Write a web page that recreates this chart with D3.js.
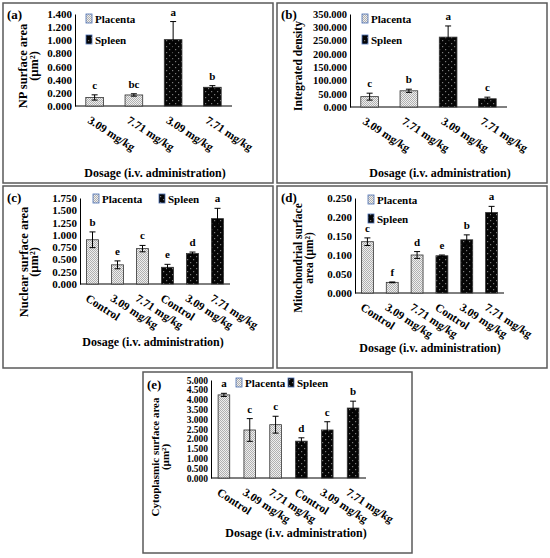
<!DOCTYPE html>
<html>
<head>
<meta charset="utf-8">
<script src="https://cdn.jsdelivr.net/npm/d3@7"></script>
<style>
  body { margin: 0; background: #fff; }
  text { font-family: "Liberation Serif", "Times New Roman", serif; font-weight: bold; fill: #000; }
</style>
</head>
<body>
<svg id="fig" width="550" height="558"></svg>
<script>
// ---- categories ----
var tissues = ["Placenta", "Spleen"];
var dosesTreated = ["3.09 mg/kg", "7.71 mg/kg", "3.09 mg/kg", "7.71 mg/kg"];
var tissueTreated = ["Placenta", "Placenta", "Spleen", "Spleen"];
var dosesAll = ["Control", "3.09 mg/kg", "7.71 mg/kg", "Control", "3.09 mg/kg", "7.71 mg/kg"];
var tissueAll = ["Placenta", "Placenta", "Placenta", "Spleen", "Spleen", "Spleen"];

// ---- (a) NP surface area ----
var npArea = [0.130, 0.168, 1.010, 0.285];
var npAreaSd = [0.040, 0.018, 0.275, 0.025];
var npAreaSig = ["c", "bc", "a", "b"];
var npAreaTicks = [0, 0.2, 0.4, 0.6, 0.8, 1.0, 1.2, 1.4];

// ---- (b) integrated density ----
var intDensity = [39, 61, 263, 31];
var intDensitySd = [13, 6, 42, 6];
var intDensitySig = ["c", "b", "a", "c"];
var intDensityTicks = [0, 50, 100, 150, 200, 250, 300, 350];

// ---- (c) nuclear surface area ----
var nucArea = [0.900, 0.390, 0.720, 0.340, 0.620, 1.330];
var nucAreaSd = [0.160, 0.080, 0.065, 0.060, 0.030, 0.210];
var nucAreaSig = ["b", "e", "c", "e", "d", "a"];
var nucAreaTicks = [0, 0.25, 0.5, 0.75, 1.0, 1.25, 1.5, 1.75];

// ---- (d) mitochondrial surface area ----
var mitoArea = [0.135, 0.028, 0.100, 0.098, 0.140, 0.212];
var mitoAreaSd = [0.010, 0.001, 0.009, 0.002, 0.013, 0.016];
var mitoAreaSig = ["c", "f", "d", "e", "b", "a"];
var mitoAreaTicks = [0, 0.05, 0.1, 0.15, 0.2, 0.25];

// ---- (e) cytoplasmic surface area ----
var cytoArea = [4.240, 2.450, 2.720, 1.880, 2.450, 3.570];
var cytoAreaSd = [0.080, 0.580, 0.430, 0.170, 0.420, 0.350];
var cytoAreaSig = ["a", "c", "c", "d", "c", "b"];
var cytoAreaTicks = [0, 0.5, 1.0, 1.5, 2.0, 2.5, 3.0, 3.5, 4.0, 4.5, 5.0];

var svg = d3.select("#fig");
var fmt = d3.format(".3f");

// fill patterns
var defs = svg.append("defs");
var pp = defs.append("pattern").attr("id", "pat-Placenta")
  .attr("patternUnits", "userSpaceOnUse").attr("width", 2).attr("height", 2);
pp.append("rect").attr("width", 2).attr("height", 2).attr("fill", "#efefef");
pp.append("rect").attr("width", 1).attr("height", 1).attr("fill", "#b0b0b0");
pp.append("rect").attr("x", 1).attr("y", 1).attr("width", 1).attr("height", 1).attr("fill", "#b0b0b0");
var ps = defs.append("pattern").attr("id", "pat-Spleen")
  .attr("patternUnits", "userSpaceOnUse").attr("width", 6).attr("height", 6);
ps.append("rect").attr("width", 6).attr("height", 6).attr("fill", "#050505");
ps.append("rect").attr("x", 1).attr("y", 1).attr("width", 1.2).attr("height", 1.2).attr("fill", "#7a7a7a");
ps.append("rect").attr("x", 4).attr("y", 4).attr("width", 1.2).attr("height", 1.2).attr("fill", "#7a7a7a");

var panels = [
  { tag: "(a)", values: npArea, sd: npAreaSd, sig: npAreaSig, ticks: npAreaTicks,
    cats: dosesTreated, tissue: tissueTreated, ytitle: ["NP surface area", "(µm²)"],
    box: [3, 3, 270, 180], tagPos: [7, 19], xr: [75, 232], yr: [106, 14], pad: 0.55,
    legend: [[86, 14], [86, 35]], title: [155, 177], ytx: [27, 38], yty: 66,
    fs: { tick: 11, cat: 11.5, yt: 12.5 } },
  { tag: "(b)", values: intDensity, sd: intDensitySd, sig: intDensitySig, ticks: intDensityTicks,
    cats: dosesTreated, tissue: tissueTreated, ytitle: ["Integrated density"],
    box: [277, 3, 270, 180], tagPos: [281, 19], xr: [350, 507], yr: [107, 14], pad: 0.55,
    legend: [[362, 14], [362, 35]], title: [440, 177], ytx: [302], yty: 66,
    fs: { tick: 10.5, cat: 11.5, yt: 11.5 } },
  { tag: "(c)", values: nucArea, sd: nucAreaSd, sig: nucAreaSig, ticks: nucAreaTicks,
    cats: dosesAll, tissue: tissueAll, ytitle: ["Nuclear surface area", "(µm²)"],
    box: [3, 186, 270, 182], tagPos: [7, 202], xr: [80, 230], yr: [284, 198], pad: 0.52,
    legend: [[93, 194], [159, 194]], title: [153, 346], ytx: [28, 38], yty: 262,
    fs: { tick: 11, cat: 11.5, yt: 12.5 } },
  { tag: "(d)", values: mitoArea, sd: mitoAreaSd, sig: mitoAreaSig, ticks: mitoAreaTicks,
    cats: dosesAll, tissue: tissueAll, ytitle: ["Mitochondrial surface", "area (µm²)"],
    box: [277, 186, 270, 182], tagPos: [281, 202], xr: [355, 504], yr: [293, 198], pad: 0.52,
    legend: [[368, 195], [368, 214]], title: [430, 352], ytx: [302, 313], yty: 258,
    fs: { tick: 11, cat: 11.5, yt: 11.5 } },
  { tag: "(e)", values: cytoArea, sd: cytoAreaSd, sig: cytoAreaSig, ticks: cytoAreaTicks,
    cats: dosesAll, tissue: tissueAll, ytitle: ["Cytoplasmic surface area", "(µm²)"],
    box: [143, 372, 269, 181], tagPos: [147, 389], xr: [211, 366], yr: [478, 380], pad: 0.55,
    legend: [[236, 378], [288, 378]], title: [296, 537], ytx: [159, 169], yty: 457,
    fs: { tick: 9.5, cat: 11.5, yt: 11 } }
];

panels.forEach(drawPanel);

function drawPanel(p) {
  var g = svg.append("g");

  g.append("rect")
    .attr("x", p.box[0]).attr("y", p.box[1])
    .attr("width", p.box[2]).attr("height", p.box[3])
    .attr("fill", "none").attr("stroke", "#5a5a5a").attr("stroke-width", 1.5);

  g.append("text").attr("x", p.tagPos[0]).attr("y", p.tagPos[1])
    .style("font-size", "13px").text(p.tag);

  var x = d3.scaleBand().domain(d3.range(p.values.length)).range(p.xr)
    .paddingInner(p.pad).paddingOuter(p.pad / 2);
  var y = d3.scaleLinear().domain([0, d3.max(p.ticks)]).range(p.yr);

  // y axis
  var ya = g.append("g").attr("transform", `translate(${p.xr[0]},0)`)
    .call(d3.axisLeft(y).tickValues(p.ticks).tickFormat(fmt).tickSize(0).tickPadding(3));
  ya.select(".domain").attr("stroke", "#000");
  ya.selectAll("text").style("font-size", p.fs.tick + "px");

  // x axis line
  g.append("line").attr("x1", p.xr[0]).attr("x2", p.xr[1])
    .attr("y1", p.yr[0]).attr("y2", p.yr[0]).attr("stroke", "#000");

  // bars
  g.selectAll(".bar").data(p.values).enter().append("rect")
    .attr("x", (d, i) => x(i)).attr("width", x.bandwidth())
    .attr("y", d => y(d)).attr("height", d => y(0) - y(d))
    .attr("fill", (d, i) => `url(#pat-${p.tissue[i]})`)
    .attr("stroke", "#333").attr("stroke-width", 0.8);

  // error bars
  var cx = i => x(i) + x.bandwidth() / 2;
  var eb = g.selectAll(".err").data(p.values).enter().append("g");
  eb.append("line").attr("x1", (d, i) => cx(i)).attr("x2", (d, i) => cx(i))
    .attr("y1", (d, i) => y(d + p.sd[i])).attr("y2", (d, i) => y(d - p.sd[i]));
  eb.append("line").attr("x1", (d, i) => cx(i) - 3).attr("x2", (d, i) => cx(i) + 3)
    .attr("y1", (d, i) => y(d + p.sd[i])).attr("y2", (d, i) => y(d + p.sd[i]));
  eb.append("line").attr("x1", (d, i) => cx(i) - 3).attr("x2", (d, i) => cx(i) + 3)
    .attr("y1", (d, i) => y(d - p.sd[i])).attr("y2", (d, i) => y(d - p.sd[i]));
  eb.selectAll("line").attr("stroke", "#000").attr("stroke-width", 1);

  // significance letters
  g.selectAll(".sig").data(p.sig).enter().append("text")
    .attr("x", (d, i) => cx(i)).attr("y", (d, i) => y(p.values[i] + p.sd[i]) - 6)
    .attr("text-anchor", "middle").style("font-size", "11px").text(d => d);

  // rotated category labels
  g.selectAll(".cat").data(p.cats).enter().append("text")
    .attr("transform", (d, i) => `translate(${cx(i) - 3},${p.yr[0] + 9}) rotate(33)`)
    .attr("dy", "0.75em").style("font-size", p.fs.cat + "px").text(d => d);

  // legend
  tissues.forEach(function(t, k) {
    var pos = p.legend[k];
    g.append("rect").attr("x", pos[0]).attr("y", pos[1]).attr("width", 6).attr("height", 9)
      .attr("fill", `url(#pat-${t})`).attr("stroke", "#4a6fb5").attr("stroke-width", 0.8);
    g.append("text").attr("x", pos[0] + 9).attr("y", pos[1] + 8.5)
      .style("font-size", "11px").text(t);
  });

  // axis titles
  g.append("text").attr("x", p.title[0]).attr("y", p.title[1])
    .attr("text-anchor", "middle").style("font-size", "12px")
    .text("Dosage (i.v. administration)");
  p.ytitle.forEach(function(s, k) {
    g.append("text")
      .attr("transform", `translate(${p.ytx[k]},${p.yty}) rotate(-90)`)
      .attr("text-anchor", "middle").style("font-size", p.fs.yt + "px").text(s);
  });
}
</script>
</body>
</html>
